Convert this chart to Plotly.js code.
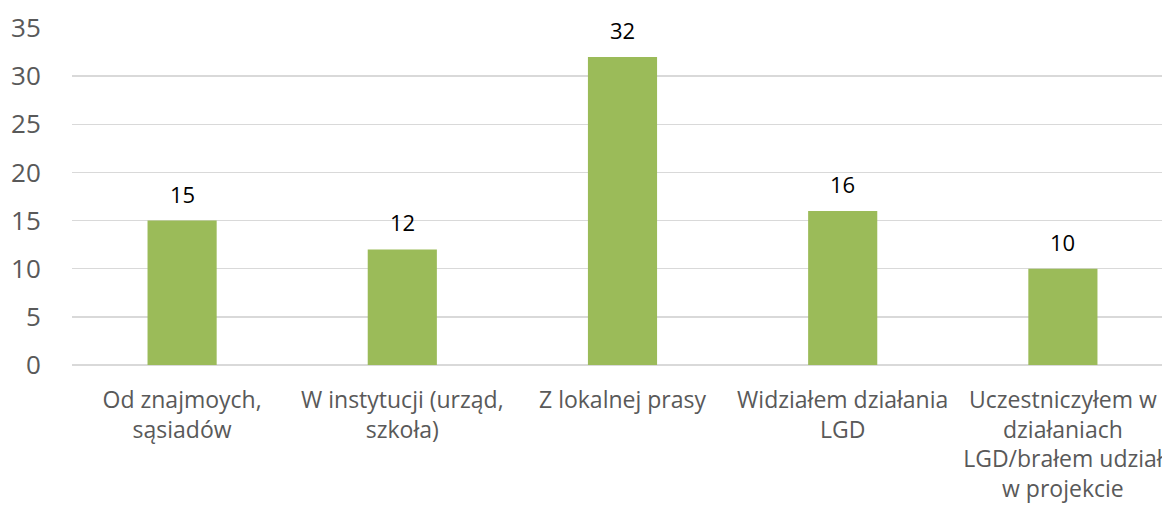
<!DOCTYPE html>
<html>
<head>
<meta charset="utf-8">
<script src="https://cdn.plot.ly/plotly-3.0.1.min.js"></script>
<style>
html, body { margin: 0; padding: 0; overflow: hidden; width: 1162px; height: 509px; background: #fff; }
#chart { width: 1180px; height: 509px; }
</style>
</head>
<body>
<div id="chart"></div>
<script>
const categories = [
  "Od znajmoych,<br>sąsiadów",
  "W instytucji (urząd,<br>szkoła)",
  "Z lokalnej prasy",
  "Widziałem działania<br>LGD",
  "Uczestniczyłem w<br>działaniach<br>LGD/brałem udział<br>w projekcie"
];
const values = [15, 12, 32, 16, 10];
const yTicks = [0, 5, 10, 15, 20, 25, 30, 35];

const FONT = "'Open Sans', 'Noto Sans', sans-serif";

const trace = {
  type: "bar",
  x: categories,
  y: values,
  marker: { color: "#9BBB59" },
  hoverinfo: "none"
};

const annotations = categories.map((c, i) => ({
  x: c,
  y: values[i],
  text: String(values[i]),
  showarrow: false,
  yanchor: "bottom",
  yshift: 10,
  font: { family: FONT, size: 22, color: "#000000" }
}));

const layout = {
  width: 1180,
  height: 509,
  margin: { l: 72, r: 7, t: 28, b: 144 },
  paper_bgcolor: "#ffffff",
  plot_bgcolor: "#ffffff",
  bargap: 0.686,
  showlegend: false,
  font: { family: FONT, color: "#595959" },
  xaxis: {
    type: "category",
    showgrid: false,
    showline: false,
    zeroline: false,
    tickangle: 0,
    ticks: "outside",
    ticklen: 14,
    tickcolor: "rgba(0,0,0,0)",
    tickfont: { family: FONT, size: 23, color: "#595959" },
    fixedrange: true
  },
  yaxis: {
    range: [0, 35],
    tickvals: yTicks,
    ticktext: yTicks.map(String),
    showgrid: true,
    gridcolor: "#D9D9D9",
    gridwidth: 1.5,
    zeroline: true,
    zerolinecolor: "#D9D9D9",
    zerolinewidth: 1.5,
    showline: false,
    ticks: "outside",
    ticklen: 25,
    tickcolor: "rgba(0,0,0,0)",
    tickfont: { family: FONT, size: 26, color: "#595959" },
    fixedrange: true
  },
  annotations: annotations
};

Plotly.newPlot("chart", [trace], layout, { displayModeBar: false, staticPlot: true });
</script>
</body>
</html>
